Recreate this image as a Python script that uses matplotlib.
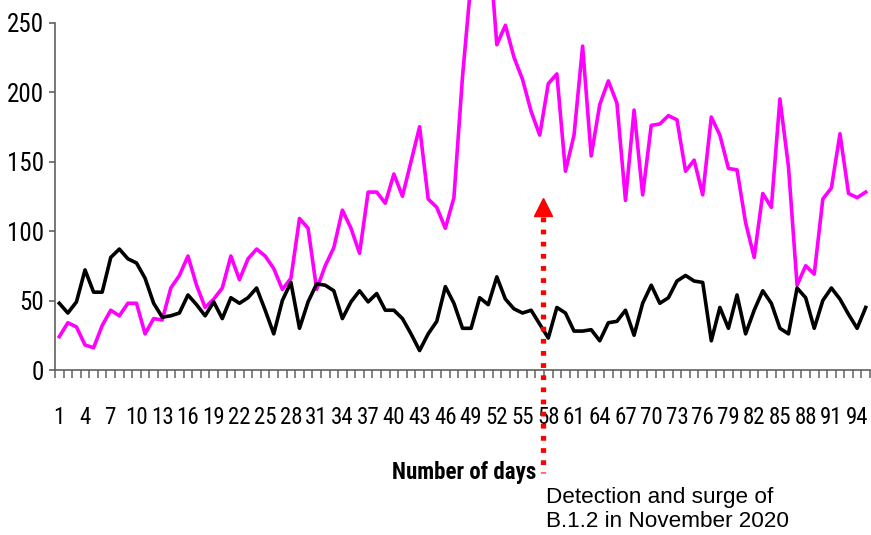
import matplotlib
matplotlib.use("Agg")
import matplotlib.pyplot as plt
from matplotlib import font_manager

# daily counts, day 1..95
days = list(range(1, 96))
black_counts = [48, 41, 49, 72, 56, 56, 81, 87, 80, 77, 66, 48, 38, 39, 41, 54, 47, 39, 49, 37,
                52, 48, 52, 59, 43, 26, 50, 63, 30, 49, 62, 61, 57, 37, 49, 57, 49, 55, 43, 43,
                37, 26, 14, 26, 35, 60, 48, 30, 30, 52, 47, 67, 51, 44, 41, 43, 33, 23, 45, 41,
                28, 28, 29, 21, 34, 35, 43, 25, 48, 61, 48, 52, 64, 68, 64, 63, 21, 45, 30, 54,
                26, 43, 57, 48, 30, 26, 59, 52, 30, 50, 59, 51, 40, 30, 45]
magenta_counts = [24, 34, 31, 18, 16, 32, 43, 39, 48, 48, 26, 37, 36, 59, 68, 82, 61, 45, 51, 59,
                  82, 65, 80, 87, 82, 73, 58, 66, 109, 102, 58, 75, 88, 115, 102, 84, 128, 128, 120, 141,
                  125, 150, 175, 123, 117, 102, 124, 211, 280, 335, 315, 234, 248, 225, 209, 186, 169, 206, 213, 143,
                  169, 233, 154, 191, 208, 192, 122, 187, 126, 176, 177, 183, 180, 143, 151, 126, 182, 169, 145, 144,
                  106, 81, 127, 117, 195, 146, 61, 75, 69, 123, 131, 170, 127, 124, 128]
yticks = [0, 50, 100, 150, 200, 250]
xtick_days = days[::3]

arrow_day = 57.4
arrow_tip = 124
arrow_tail = -74
note = "Detection and surge of\nB.1.2 in November 2020"


def pick_font(names, fallback="DejaVu Sans"):
    have = {f.name for f in font_manager.fontManager.ttflist}
    for n in names:
        if n in have:
            return n
    return fallback


narrow = pick_font(["Liberation Sans Narrow", "Arial Narrow", "Roboto Condensed", "Open Sans Condensed"],
                   "Liberation Sans")
regular = pick_font(["Liberation Sans", "Arial"])

fig = plt.figure(figsize=(8.71, 5.35), dpi=100)
ax = fig.add_axes([55 / 871, 165 / 535, 815 / 871, 370 / 535])

ax.plot(days, magenta_counts, color="#ff00ff", lw=2.6, solid_joinstyle="round")
ax.plot(days, black_counts, color="black", lw=2.6, solid_joinstyle="round")

ax.set_xlim(0.5, 95.5)
ax.set_ylim(0, 266.2)

for s in ["top", "right"]:
    ax.spines[s].set_visible(False)
ax.spines["left"].set_bounds(0, 250)
ax.spines["left"].set_color("#606060")
ax.spines["bottom"].set_color("#606060")
ax.spines["left"].set_linewidth(1.2)
ax.spines["bottom"].set_linewidth(1.2)

ax.set_yticks(yticks)
ax.set_yticklabels([str(v) for v in yticks], fontfamily=narrow, fontsize=18)
ax.tick_params(axis="y", direction="out", length=4, width=1.2, color="#606060", pad=4)

# category boundaries as ticks, labels every third day
ax.set_xticks([d + 0.5 for d in [0] + days], minor=True)
ax.set_xticks(xtick_days)
ax.set_xticklabels([str(d) for d in xtick_days], fontfamily=narrow, fontsize=16.5)
ax.tick_params(axis="x", which="major", length=0, pad=26)
ax.tick_params(axis="x", which="minor", direction="out", length=6, width=1.1, color="#606060")

ax.set_xlabel("Number of days", fontfamily=narrow, fontsize=16.5, fontweight="bold", va="center")
ax.xaxis.set_label_coords((464 - 55) / 815, -(473 - 370) / 370)

# dotted arrow marking the detection day
ax.plot([arrow_day, arrow_day], [arrow_tip - 14, arrow_tail], color="red", lw=3.8,
        linestyle=(0, (0.9, 1.4)), dash_capstyle="butt", clip_on=False)
ax.plot([arrow_day], [arrow_tip - 6.5], marker="^", color="red", markersize=13, clip_on=False)

fig.text(546 / 871, 1 - 487 / 535, note, fontfamily=regular, fontsize=16.2,
         ha="left", va="top", linespacing=1.2)

fig.savefig("out.png", dpi=100)
